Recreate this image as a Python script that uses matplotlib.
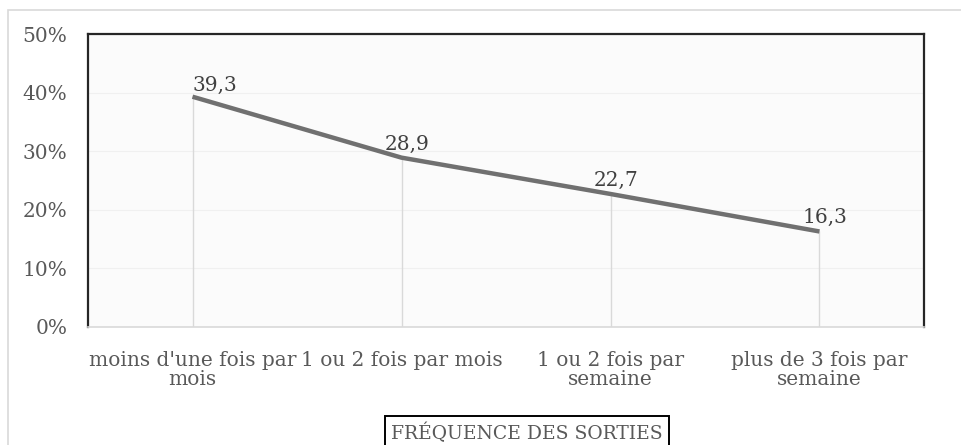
import matplotlib.pyplot as plt
from matplotlib.patches import Rectangle
import numpy as np

plt.rcParams.update({"font.family": ["DejaVu Serif"]})

categories = ["moins d'une fois par\nmois", "1 ou 2 fois par mois",
              "1 ou 2 fois par\nsemaine", "plus de 3 fois par\nsemaine"]
values = [39.3, 28.9, 22.7, 16.3]
labels = ["39,3", "28,9", "22,7", "16,3"]
yticks = [0, 10, 20, 30, 40, 50]
ytick_labels = ["0%", "10%", "20%", "30%", "40%", "50%"]
axis_title = "FRÉQUENCE DES SORTIES"

fs = 14.5

fig = plt.figure(figsize=(9.62, 4.45), dpi=100)
ax = fig.add_axes([88/962, 118/445, 836/962, 293/445])
ax.set_facecolor('#fbfbfb')

x = np.arange(len(categories))
ax.vlines(x, 0, values, color='#d9d9d9', linewidth=1, zorder=1)
ax.plot(x, values, color='#707070', linewidth=3.2, solid_capstyle='butt', zorder=3)

for i, (xi, v, lab) in enumerate(zip(x, values, labels)):
    if i == 0:
        ax.annotate(lab, (xi, v), xytext=(0, 1), textcoords='offset points',
                    ha='left', va='bottom', fontsize=fs, color='#404040')
    else:
        ax.annotate(lab, (xi, v), xytext=(4, 3), textcoords='offset points',
                    ha='center', va='bottom', fontsize=fs, color='#404040')

ax.set_xlim(-0.5, 3.5)
ax.set_ylim(0, 50)
ax.set_yticks(yticks)
ax.set_yticklabels(ytick_labels)
ax.set_xticks(x)
ax.set_xticklabels(categories, linespacing=1.05)
ax.tick_params(axis='both', length=0, labelsize=fs, labelcolor='#595959')
ax.tick_params(axis='y', pad=15)
ax.tick_params(axis='x', pad=17)
ax.yaxis.grid(True, color='#f0f0f0', linewidth=0.8)
ax.set_axisbelow(True)

for s in ['left', 'top', 'right']:
    ax.spines[s].set_color('#262626')
    ax.spines[s].set_linewidth(1.6)
ax.spines['bottom'].set_color('#d9d9d9')
ax.spines['bottom'].set_linewidth(1.2)

fig.text(527/962, 1 - 433/445, axis_title, ha='center', va='center', fontsize=fs - 1,
         color='#595959',
         bbox=dict(boxstyle='square,pad=0.35', facecolor='white', edgecolor='black', linewidth=1.4))

fig.patches.append(Rectangle((8/962, -0.1), 1.2, 1.1 - 10/445, transform=fig.transFigure,
                             fill=False, edgecolor='#d9d9d9', linewidth=1.2))

fig.savefig('out.png', dpi=100)
